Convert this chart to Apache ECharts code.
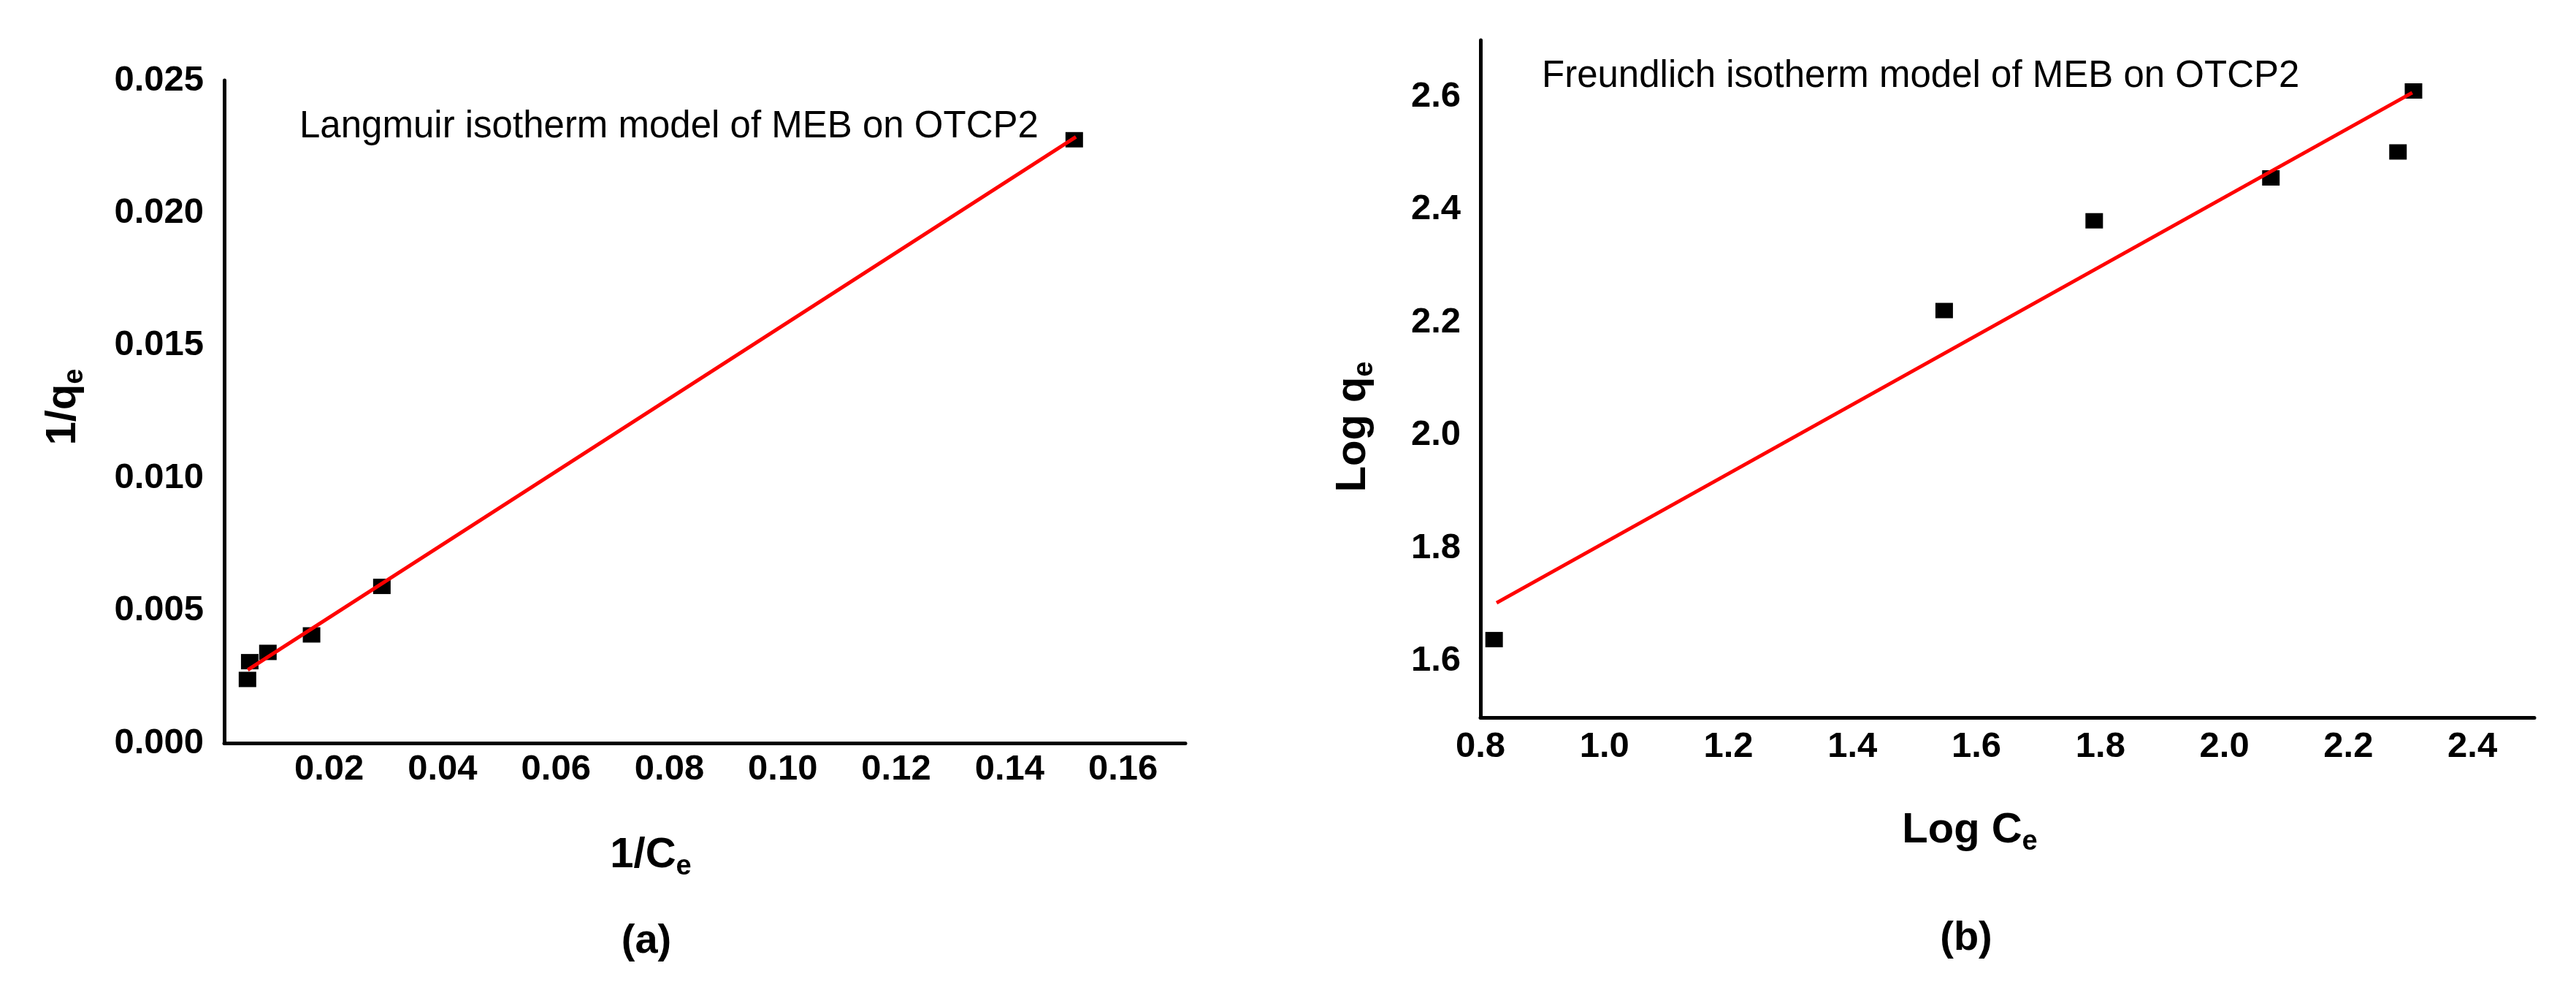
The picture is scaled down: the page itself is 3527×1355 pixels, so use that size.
<!DOCTYPE html>
<html>
<head>
<meta charset="utf-8">
<script src="https://cdn.jsdelivr.net/npm/echarts@6/dist/echarts.min.js"></script>
<style>
html, body { margin: 0; padding: 0; background: #fff; }
#main { width: 3527px; height: 1355px; }
</style>
</head>
<body>
<div id="main"></div>
<script>
// (a) Langmuir: 1/Ce vs 1/qe
var langX = [0.0056, 0.0060, 0.0092, 0.0169, 0.0293, 0.1514];
var langY = [0.00240, 0.00307, 0.00342, 0.00408, 0.00591, 0.02276];
var langFitX = [0.00565, 0.1517];
var langFitY = [0.00276, 0.02287];
var langXTicks = [0.02, 0.04, 0.06, 0.08, 0.10, 0.12, 0.14, 0.16];
var langYTicks = [0, 0.005, 0.010, 0.015, 0.020, 0.025];

// (b) Freundlich: Log Ce vs Log qe
var frX = [0.822, 1.548, 1.790, 2.075, 2.280, 2.305];
var frY = [1.638, 2.221, 2.380, 2.456, 2.502, 2.610];
var frFitX = [0.826, 2.303];
var frFitY = [1.703, 2.607];
var frXTicks = [0.8, 1.0, 1.2, 1.4, 1.6, 1.8, 2.0, 2.2, 2.4];
var frYTicks = [1.6, 1.8, 2.0, 2.2, 2.4, 2.6];

var FONT = '"Liberation Sans", Arial, sans-serif';

function pairs(xs, ys) {
    var out = [];
    for (var i = 0; i < xs.length; i++) {
        out.push([xs[i], ys[i]]);
    }
    return out;
}

function axisBase(ticks, digits, margin) {
    return {
        type: 'value',
        axisLine: { show: true, lineStyle: { color: '#000', width: 5 } },
        axisTick: { show: false },
        splitLine: { show: false },
        axisLabel: {
            customValues: ticks,
            margin: margin,
            color: '#000',
            fontFamily: FONT,
            fontWeight: 'bold',
            fontSize: 49,
            formatter: function (v) { return Number(v).toFixed(digits); }
        }
    };
}

var xa0 = axisBase(langXTicks, 2, 12);
xa0.gridIndex = 0; xa0.min = 0.0015; xa0.max = 0.171;
var ya0 = axisBase(langYTicks, 3, 28);
ya0.gridIndex = 0; ya0.min = 0; ya0.max = 0.025;
var xa1 = axisBase(frXTicks, 1, 16);
xa1.gridIndex = 1; xa1.min = 0.8; xa1.max = 2.5;
var ya1 = axisBase(frYTicks, 1, 27);
ya1.gridIndex = 1; ya1.min = 1.5; ya1.max = 2.7;

var titleRich = {
    b: { fontFamily: FONT, fontWeight: 'bold', fontSize: 58, lineHeight: 70, fill: '#000' },
    s: { fontFamily: FONT, fontWeight: 'bold', fontSize: 38, lineHeight: 34, verticalAlign: 'bottom', fill: '#000' }
};

function label(text, x, y, size, rotate) {
    return {
        type: 'text',
        x: x,
        y: y,
        rotation: rotate || 0,
        style: {
            text: text,
            fontFamily: FONT,
            fontWeight: 'bold',
            fontSize: size,
            fill: '#000',
            textAlign: 'center',
            textVerticalAlign: 'middle',
            rich: titleRich
        }
    };
}

function note(text, x, y) {
    return {
        type: 'text',
        x: x,
        y: y,
        style: {
            text: text,
            fontFamily: FONT,
            fontSize: 51,
            fill: '#000',
            textAlign: 'left',
            textVerticalAlign: 'middle'
        }
    };
}

var chart = echarts.init(document.getElementById('main'));
var option = {
    backgroundColor: '#fff',
    animation: false,
    grid: [
        { left: 307, top: 110, width: 1316, height: 907 },
        { left: 2027, top: 55, width: 1443, height: 927 }
    ],
    xAxis: [xa0, xa1],
    yAxis: [ya0, ya1],
    series: [
        {
            type: 'scatter', xAxisIndex: 0, yAxisIndex: 0,
            symbol: 'rect', symbolSize: [24, 21],
            itemStyle: { color: '#000', opacity: 1 },
            data: pairs(langX, langY), z: 2
        },
        {
            type: 'line', xAxisIndex: 0, yAxisIndex: 0,
            showSymbol: false,
            lineStyle: { color: '#ff0000', width: 5 },
            data: pairs(langFitX, langFitY), z: 3
        },
        {
            type: 'scatter', xAxisIndex: 1, yAxisIndex: 1,
            symbol: 'rect', symbolSize: [24, 21],
            itemStyle: { color: '#000', opacity: 1 },
            data: pairs(frX, frY), z: 2
        },
        {
            type: 'line', xAxisIndex: 1, yAxisIndex: 1,
            showSymbol: false,
            lineStyle: { color: '#ff0000', width: 5 },
            data: pairs(frFitX, frFitY), z: 3
        }
    ],
    graphic: [
        note('Langmuir isotherm model of MEB on OTCP2', 410, 174),
        note('Freundlich isotherm model of MEB on OTCP2', 2111, 105),
        label('{b|1/q}{s|e}', 87, 557, 58, Math.PI / 2),
        label('{b|1/C}{s|e}', 891, 1171, 58),
        label('{b|Log q}{s|e}', 1853, 584, 58, Math.PI / 2),
        label('{b|Log C}{s|e}', 2697, 1137, 58),
        label('(a)', 885, 1289, 56),
        label('(b)', 2692, 1285, 56)
    ]
};
chart.setOption(option);
</script>
</body>
</html>
